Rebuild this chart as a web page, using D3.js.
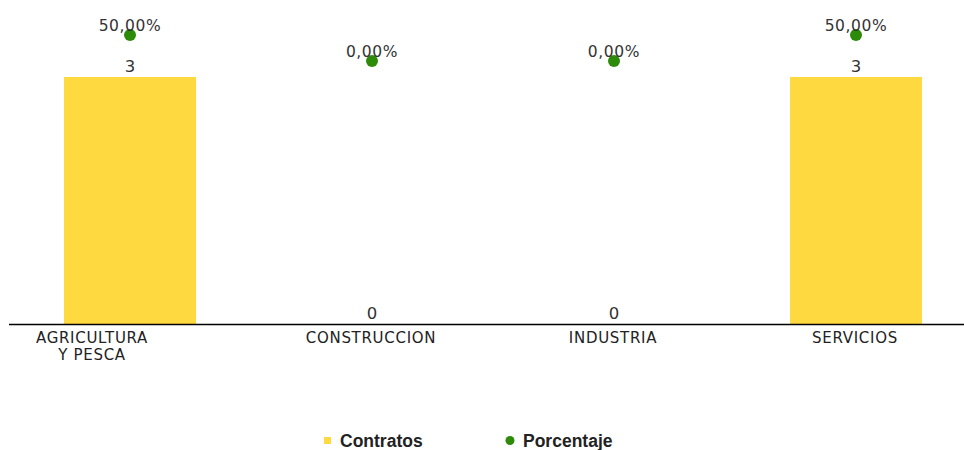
<!DOCTYPE html>
<html>
<head>
<meta charset="utf-8">
<script src="https://cdn.jsdelivr.net/npm/d3@7"></script>
<style>
  html, body { margin: 0; padding: 0; background: #fff; }
  svg { display: block; }
</style>
</head>
<body>
<svg id="chart" width="964" height="450"></svg>
<script>
const categories = ["AGRICULTURA\nY PESCA", "CONSTRUCCION", "INDUSTRIA", "SERVICIOS"];
const contratos = [3, 0, 0, 3];
const porcentaje = [50, 0, 0, 50];
const porcentajeLabels = ["50,00%", "0,00%", "0,00%", "50,00%"];
const legendLabels = ["Contratos", "Porcentaje"];

const yellow = "#FFD940";
const green = "#2E8B0A";
const textColor = "#333";

const svg = d3.select("#chart");
const baseY = 324;

const x = d3.scaleBand().domain(categories).range([9, 977])
  .paddingInner(0.4545).paddingOuter(0.2273);
const y = d3.scaleLinear().domain([0, 3]).range([baseY, 77]);
const yp = d3.scaleLinear().domain([0, 50]).range([61, 35]);

// bars
svg.append("g").selectAll("rect").data(categories).join("rect")
  .attr("x", d => x(d))
  .attr("y", (d, i) => y(contratos[i]))
  .attr("width", x.bandwidth())
  .attr("height", (d, i) => baseY - y(contratos[i]))
  .attr("fill", yellow);

// bar value labels
svg.append("g").selectAll("text").data(categories).join("text")
  .attr("x", d => x(d) + x.bandwidth() / 2)
  .attr("y", (d, i) => y(contratos[i]) - 5)
  .attr("text-anchor", "middle")
  .attr("font-family", "DejaVu Sans, Verdana, sans-serif")
  .attr("font-size", 16.5)
  .attr("fill", textColor)
  .text((d, i) => contratos[i]);

// axis
const axis = svg.append("g").attr("transform", `translate(0,${baseY})`)
  .call(d3.axisBottom(x).tickSize(0).tickFormat(""));
axis.select(".domain").attr("stroke", "#000").attr("stroke-width", 1.5)
  .attr("d", "M9,0.5H964");

// category labels
const catG = svg.append("g");
categories.forEach((c, i) => {
  const lines = c.split("\n");
  const cx = x(c) + x.bandwidth() / 2 + (lines.length > 1 ? -38 : -1);
  const t = catG.append("text")
    .attr("x", cx)
    .attr("y", 343)
    .attr("text-anchor", "middle")
    .attr("font-family", "DejaVu Sans, Verdana, sans-serif")
    .attr("font-size", 15)
    .attr("letter-spacing", 0.7)
    .attr("fill", "#222");
  lines.forEach((l, j) => {
    t.append("tspan").attr("x", cx).attr("dy", j === 0 ? 0 : 17).text(l);
  });
});

// percentage points
svg.append("g").selectAll("circle").data(categories).join("circle")
  .attr("cx", d => x(d) + x.bandwidth() / 2)
  .attr("cy", (d, i) => yp(porcentaje[i]))
  .attr("r", 6)
  .attr("fill", green);

svg.append("g").selectAll("text").data(categories).join("text")
  .attr("x", d => x(d) + x.bandwidth() / 2)
  .attr("y", (d, i) => yp(porcentaje[i]) - 4)
  .attr("text-anchor", "middle")
  .attr("font-family", "DejaVu Sans, Verdana, sans-serif")
  .attr("font-size", 15.5)
  .attr("letter-spacing", 0.6)
  .attr("fill", textColor)
  .text((d, i) => porcentajeLabels[i]);

// legend
const lg = svg.append("g");
lg.append("rect").attr("x", 324).attr("y", 437).attr("width", 7).attr("height", 7).attr("fill", yellow);
lg.append("text").attr("x", 340).attr("y", 447)
  .attr("font-family", "Liberation Sans, Arial, sans-serif").attr("font-weight", "bold")
  .attr("font-size", 17.5).attr("fill", "#222").text(legendLabels[0]);
lg.append("circle").attr("cx", 510).attr("cy", 440.5).attr("r", 4.5).attr("fill", green);
lg.append("text").attr("x", 523).attr("y", 447)
  .attr("font-family", "Liberation Sans, Arial, sans-serif").attr("font-weight", "bold")
  .attr("font-size", 17.5).attr("fill", "#222").text(legendLabels[1]);
</script>
</body>
</html>
